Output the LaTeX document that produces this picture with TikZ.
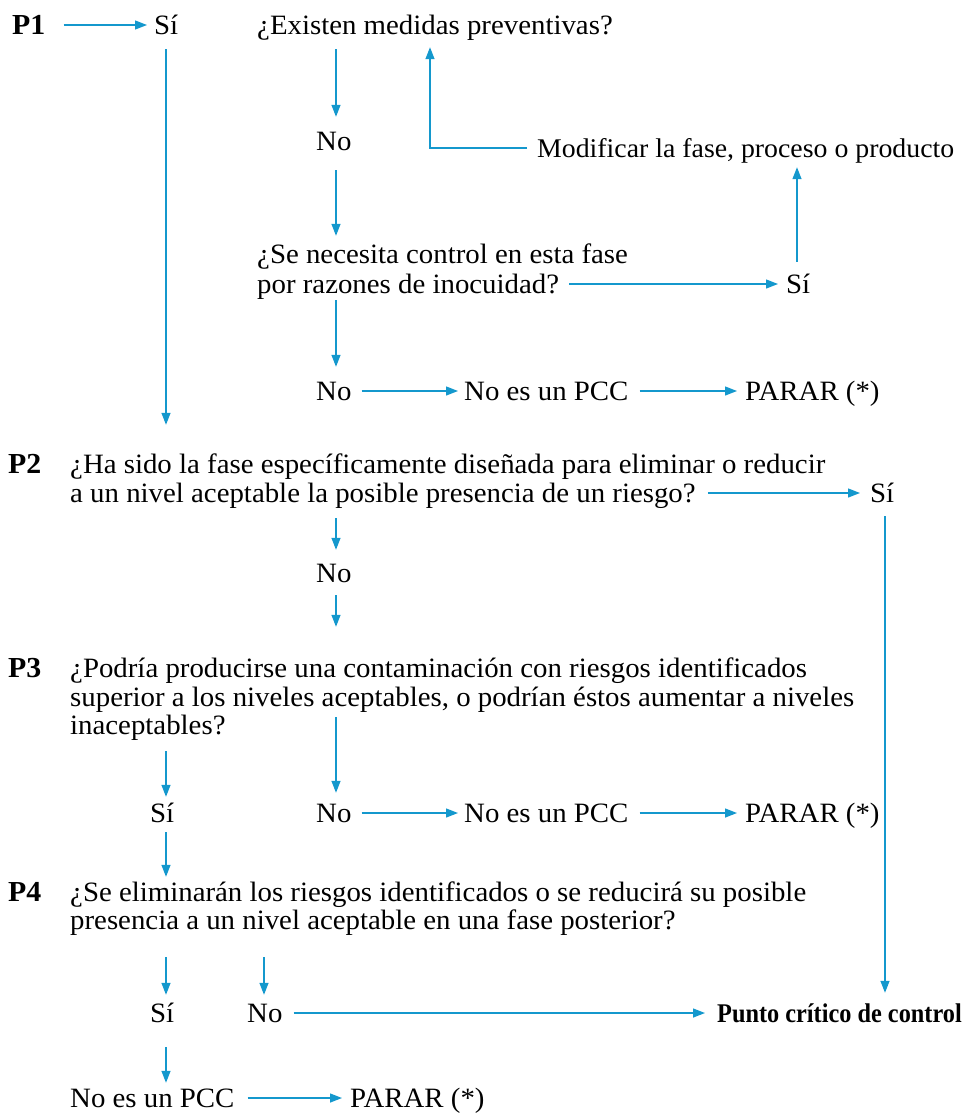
\documentclass[tikz,border=0pt]{standalone}
\usepackage{fontspec}
\setmainfont{Liberation Serif}[FakeStretch=1.03]
\newfontfamily\pccfont{Liberation Serif}[FakeStretch=0.9]
\usetikzlibrary{arrows.meta}
\definecolor{lineblue}{RGB}{20,152,205}
\begin{document}
\begin{tikzpicture}[x=1pt,y=-1pt,
  txt/.style={anchor=base west, inner sep=0pt, text height=18pt, text depth=0pt, font=\fontsize{28}{30}\selectfont},
  plabel/.style={txt, font=\fontsize{29}{30}\selectfont\bfseries},
  pccstyle/.style={txt, font=\fontsize{27}{30}\selectfont\pccfont\bfseries},
  arr/.style={draw=lineblue, line width=1.3pt, -{Triangle[length=12pt,width=9pt]}}]
\useasboundingbox (0,0) rectangle (967,1114);
\coordinate (colA) at (166,0);
\coordinate (colB) at (336,0);
\coordinate (colC) at (264,0);
\coordinate (colD) at (430,0);
\coordinate (colE) at (797,0);
\coordinate (colF) at (885,0);
% P1
\node[plabel] (p1) at (12,34) {P1};
\node[txt] (si1) at (154,34) {Sí};
\node[txt] (q1) at (257,34) {¿Existen medidas preventivas?};
\node[txt] (no1) at (316,150) {No};
\node[txt, font=\fontsize{27}{30}\selectfont] (mod) at (537,157) {Modificar la fase, proceso o producto};
\node[txt] (qa) at (257,263) {¿Se necesita control en esta fase};
\node[txt] (qb) at (257,293) {por razones de inocuidad?};
\node[txt] (si2) at (786,293) {Sí};
\node[txt] (no2) at (316,400) {No};
\node[txt] (npcc1) at (464,400) {No es un PCC};
\node[txt] (parar1) at (745,400) {PARAR (*)};
% P2
\node[plabel] (p2) at (8,473) {P2};
\node[txt] (q2a) at (70,473) {¿Ha sido la fase específicamente diseñada para eliminar o reducir};
\node[txt] (q2b) at (70,502) {a un nivel aceptable la posible presencia de un riesgo?};
\node[txt] (si3) at (870,502) {Sí};
\node[txt] (no3) at (316,582) {No};
% P3
\node[plabel] (p3) at (8,677) {P3};
\node[txt] (q3a) at (70,677) {¿Podría producirse una contaminación con riesgos identificados};
\node[txt] (q3b) at (70,706) {superior a los niveles aceptables, o podrían éstos aumentar a niveles};
\node[txt] (q3c) at (70,734) {inaceptables?};
\node[txt] (si4) at (150,822) {Sí};
\node[txt] (no4) at (316,822) {No};
\node[txt] (npcc2) at (464,822) {No es un PCC};
\node[txt] (parar2) at (745,822) {PARAR (*)};
% P4
\node[plabel] (p4) at (8,901) {P4};
\node[txt] (q4a) at (70,901) {¿Se eliminarán los riesgos identificados o se reducirá su posible};
\node[txt] (q4b) at (70,929) {presencia a un nivel aceptable en una fase posterior?};
\node[txt] (si5) at (150,1022) {Sí};
\node[txt] (no5) at (247,1022) {No};
\node[pccstyle] (pcc) at (717,1022) {Punto crítico de control};
\node[txt] (npcc3) at (70,1107) {No es un PCC};
\node[txt] (parar3) at (350,1107) {PARAR (*)};
% connectors P1
\draw[arr, shorten <=18pt, shorten >=7pt] (p1.east) -- (si1.west);
\draw[arr, shorten <=15pt, shorten >=30pt] (si1.south -| colA) -- (p2.north -| colA);
\draw[arr, shorten <=15pt, shorten >=15pt] (q1.south -| colB) -- (no1.north -| colB);
\draw[arr, shorten <=20pt, shorten >=9pt] (no1.south -| colB) -- (qa.north -| colB);
\draw[arr, shorten <=10pt, shorten >=13pt] (mod.west) -| (q1.south -| colD);
\draw[arr, shorten <=10pt, shorten >=8pt] (qb.east) -- (si2.west);
\draw[arr, shorten <=13pt, shorten >=10pt] (si2.north -| colE) -- (mod.south -| colE);
\draw[arr, shorten <=7pt, shorten >=15pt] (qb.south -| colB) -- (no2.north -| colB);
\draw[arr, shorten <=10pt, shorten >=6pt] (no2.east) -- (npcc1.west);
\draw[arr, shorten <=11pt, shorten >=8pt] (npcc1.east) -- (parar1.west);
% connectors P2
\draw[arr, shorten <=12pt, shorten >=10pt] (q2b.east) -- (si3.west);
\draw[arr, shorten <=14pt, shorten >=11pt] (si3.south -| colF) -- (pcc.north -| colF);
\draw[arr, shorten <=16pt, shorten >=14pt] (q2b.south -| colB) -- (no3.north -| colB);
\draw[arr, shorten <=13pt, shorten >=32pt] (no3.south -| colB) -- (q3a.north -| colB);
% connectors P3
\draw[arr, shorten <=17pt, shorten >=7pt] (q3c.south -| colA) -- (si4.north -| colA);
\draw[arr, shorten <=11pt, shorten >=11pt] (q3b.south -| colB) -- (no4.north -| colB);
\draw[arr, shorten <=10pt, shorten >=6pt] (no4.east) -- (npcc2.west);
\draw[arr, shorten <=11pt, shorten >=8pt] (npcc2.east) -- (parar2.west);
\draw[arr, shorten <=10pt, shorten >=6pt] (si4.south -| colA) -- (q4a.north -| colA);
% connectors P4
\draw[arr, shorten <=28pt, shorten >=9pt] (q4b.south -| colA) -- (si5.north -| colA);
\draw[arr, shorten <=28pt, shorten >=9pt] (q4b.south -| colC) -- (no5.north -| colC);
\draw[arr, shorten <=11pt, shorten >=12pt] (no5.east) -- (pcc.west);
\draw[arr, shorten <=25pt, shorten >=6pt] (si5.south -| colA) -- (npcc3.north -| colA);
\draw[arr, shorten <=13pt, shorten >=8pt] (npcc3.east) -- (parar3.west);
\end{tikzpicture}
\end{document}
